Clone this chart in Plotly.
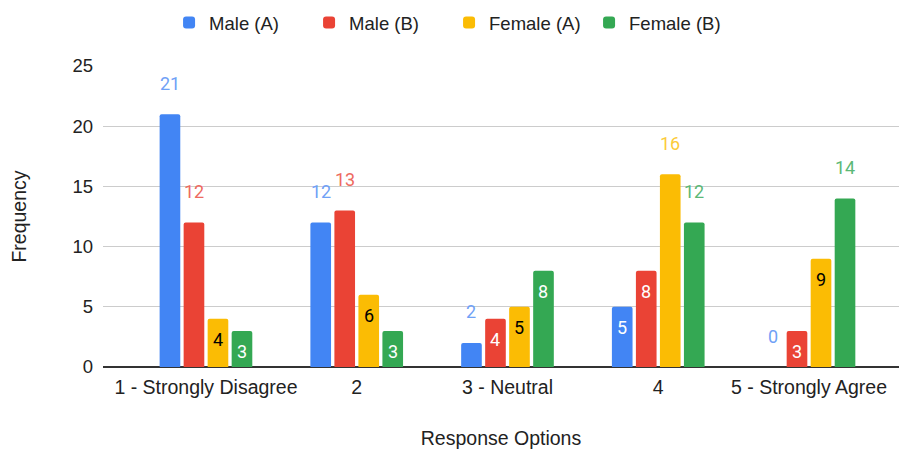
import plotly.graph_objects as go

# Survey responses by group
categories = ["1 - Strongly Disagree", "2", "3 - Neutral", "4", "5 - Strongly Agree"]
series_names = ["Male (A)", "Male (B)", "Female (A)", "Female (B)"]
male_a = [21, 12, 2, 5, 0]
male_b = [12, 13, 4, 8, 3]
female_a = [4, 6, 5, 16, 9]
female_b = [3, 3, 8, 12, 14]
y_ticks = [0, 5, 10, 15, 20, 25]

series_values = [male_a, male_b, female_a, female_b]
bar_colors = ["#4285F4", "#EA4335", "#FBBC04", "#34A853"]
outside_text_colors = ["#6FA1F6", "#EE6A60", "#FCCB3A", "#5BB876"]
inside_text_colors = ["#FFFFFF", "#FFFFFF", "#000000", "#FFFFFF"]

FAMILY = "Arial, 'Liberation Sans', sans-serif"
tick_font = dict(family=FAMILY, size=19.5, color="#222222")
ytick_font = dict(family=FAMILY, size=18.5, color="#222222")
title_font = dict(family=FAMILY, size=19.5, color="#222222")
label_family = "Roboto, Arial, sans-serif"

BARGAP = 0.363
BARGROUPGAP = 0.14
n_series = len(series_names)
slot = (1 - BARGAP) / n_series

fig = go.Figure()
for name, vals, color in zip(series_names, series_values, bar_colors):
    fig.add_trace(go.Bar(
        name=name,
        x=list(range(len(categories))),
        y=vals,
        marker=dict(color=color, line=dict(width=0)),
        hoverinfo="skip",
    ))

# Value labels: two-digit and very short bars carry the number above the bar,
# the rest sit just under the bar top.
annotations = []
for s, vals in enumerate(series_values):
    for c, v in enumerate(vals):
        outside = v >= 10 or v < 3
        annotations.append(dict(
            x=c + (s - (n_series - 1) / 2) * slot,
            y=v,
            xref="x", yref="y",
            text=str(v),
            showarrow=False,
            yshift=31 if outside else -21,
            font=dict(family=label_family, size=18,
                      color=outside_text_colors[s] if outside else inside_text_colors[s]),
        ))

fig.update_layout(
    width=899, height=449,
    margin=dict(l=103, r=0, t=66, b=82),
    paper_bgcolor="white", plot_bgcolor="white",
    barmode="group",
    bargap=BARGAP, bargroupgap=BARGROUPGAP,
    barcornerradius=2,
    font=tick_font,
    showlegend=True,
    legend=dict(
        orientation="h",
        x=0.083, xanchor="left",
        y=1.143, yanchor="middle",
        entrywidth=95,
        entrywidthmode="pixels",
        font=dict(family=FAMILY, size=18.5, color="#222222"),
        bgcolor="rgba(0,0,0,0)",
    ),
    annotations=annotations,
)

fig.update_xaxes(
    tickmode="array",
    tickvals=list(range(len(categories))),
    ticktext=categories,
    range=[-0.683, 4.597],
    showgrid=False,
    showline=False,
    ticks="",
    ticklabelstandoff=6,
    tickfont=tick_font,
    title=dict(text="Response Options", font=title_font, standoff=34),
)
fig.update_yaxes(
    range=[0, 25],
    tickmode="array",
    tickvals=y_ticks,
    showgrid=True, gridcolor="#CCCCCC", gridwidth=1,
    zeroline=True, zerolinecolor="#333333", zerolinewidth=2,
    showline=False,
    ticks="",
    ticklabelstandoff=9,
    tickfont=ytick_font,
    title=dict(text="Frequency", font=title_font, standoff=40),
)

fig.write_html("out.html")
